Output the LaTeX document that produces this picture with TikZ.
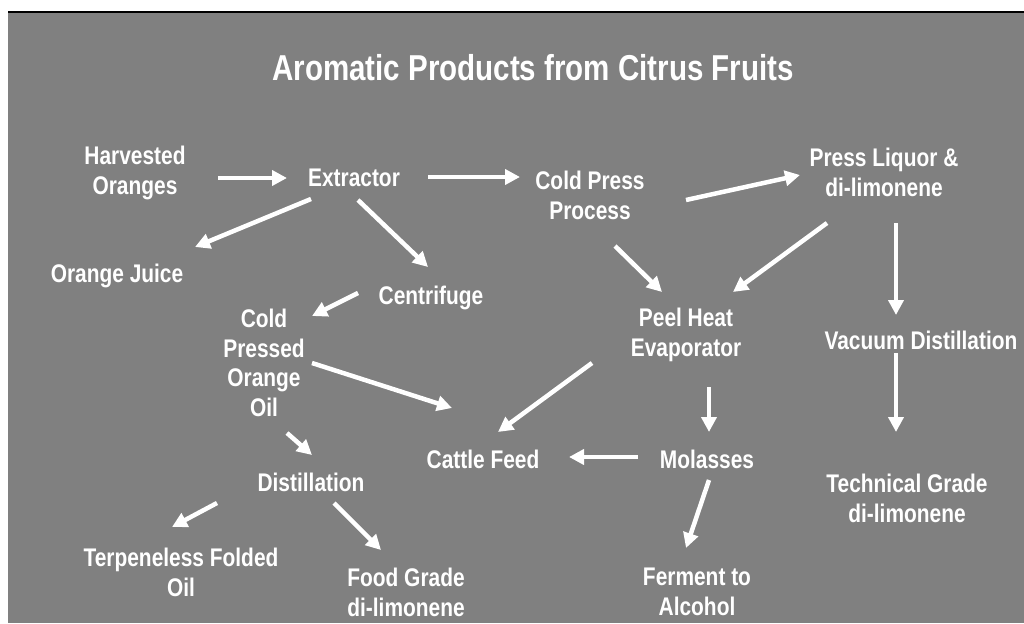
\documentclass[tikz,border=0pt]{standalone}
\usepackage{fontspec}
\setmainfont[FakeStretch=0.82]{Liberation Sans}
\usetikzlibrary{arrows.meta}
\definecolor{bg}{RGB}{128,128,128}
\tikzset{
  lbl/.style={anchor=north, inner sep=0pt, align=center, text=white,
    font=\fontsize{25.5}{29.5}\selectfont\bfseries},
  ttl/.style={anchor=north, inner sep=0pt, text=white,
    font=\fontsize{36}{40}\selectfont\bfseries},
  arr/.style={draw=white, line width=4.5pt,
    -{Triangle[length=15pt,width=15pt]}}
}
\begin{document}
\begin{tikzpicture}[x=1pt,y=-1pt]
\useasboundingbox (0,0) rectangle (1024,623);
\fill[bg] (8,12) rectangle (1024,623);
\draw[black, line width=1.6pt] (8,12) -- (1024,12);

\node[ttl] (title) at (533,54) {Aromatic Products from Citrus Fruits};

\node[lbl] (harv)   at (135,146) {Harvested\\Oranges};
\node[lbl] (extr)   at (354,169) {Extractor};
\node[lbl] (cold)   at (590,171) {Cold Press\\Process};
\node[lbl] (press)  at (884,148) {Press Liquor \&\\di-limonene};
\node[lbl] (oj)     at (117,264) {Orange Juice};
\node[lbl] (cent)   at (431,286) {Centrifuge};
\node[lbl] (cpoo)   at (264,309) {Cold\\Pressed\\Orange\\Oil};
\node[lbl] (peel)   at (686,308) {Peel Heat\\Evaporator};
\node[lbl] (vac)    at (921,331) {Vacuum Distillation};
\node[lbl] (cattle) at (483,450) {Cattle Feed};
\node[lbl] (mol)    at (707,450) {Molasses};
\node[lbl] (dist)   at (311,473) {Distillation};
\node[lbl] (tech)   at (907,474) {Technical Grade\\di-limonene};
\node[lbl] (terp)   at (181,548) {Terpeneless Folded\\Oil};
\node[lbl] (food)   at (406,568) {Food Grade\\di-limonene};
\node[lbl] (ferm)   at (697,568) {Ferment to\\Alcohol};

\draw[arr] ([shift={(83,32)}]harv.north)  -- ([shift={(-67,9)}]extr.north);
\draw[arr] ([shift={(74,8)}]extr.north)   -- ([shift={(-70,6)}]cold.north);
\draw[arr] ([shift={(96,29)}]cold.north)  -- ([shift={(-84,27)}]press.north);
\draw[arr] ([shift={(-43,30)}]extr.north) -- ([shift={(78,-17)}]oj.north);
\draw[arr] ([shift={(4,31)}]extr.north)   -- ([shift={(-3,-19)}]cent.north);
\draw[arr] ([shift={(-73,7)}]cent.north)  -- ([shift={(48,7)}]cpoo.north);
\draw[arr] ([shift={(25,75)}]cold.north)  -- ([shift={(-24,-16)}]peel.north);
\draw[arr] ([shift={(-57,75)}]press.north) -- ([shift={(47,-16)}]peel.north);
\draw[arr] ([shift={(12,75)}]press.north) -- ([shift={(-25,-16)}]vac.north);
\draw[arr] ([shift={(-25,22)}]vac.north)  -- ([shift={(-11,-42)}]tech.north);
\draw[arr] ([shift={(-94,55)}]peel.north) -- ([shift={(15,-18)}]cattle.north);
\draw[arr] ([shift={(48,54)}]cpoo.north)  -- ([shift={(-31,-42)}]cattle.north);
\draw[arr] ([shift={(23,79)}]peel.north)  -- ([shift={(2,-18)}]mol.north);
\draw[arr] ([shift={(-69,7)}]mol.north)   -- ([shift={(86,7)}]cattle.north);
\draw[arr] ([shift={(23,124)}]cpoo.north) -- ([shift={(1,-18)}]dist.north);
\draw[arr] ([shift={(-94,30)}]dist.north) -- ([shift={(-9,-21)}]terp.north);
\draw[arr] ([shift={(23,30)}]dist.north)  -- ([shift={(-25,-18)}]food.north);
\draw[arr] ([shift={(2,30)}]mol.north)    -- ([shift={(-11,-20)}]ferm.north);
\end{tikzpicture}
\end{document}
